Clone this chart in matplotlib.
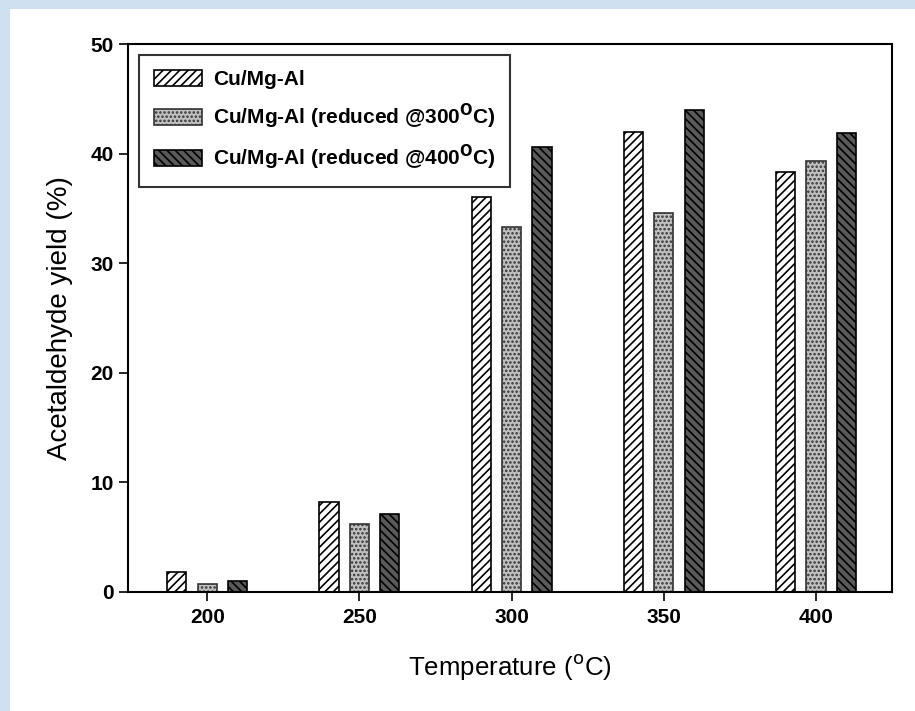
import matplotlib
matplotlib.use("Agg")
import matplotlib.pyplot as plt
from matplotlib.patches import Rectangle
import numpy as np

plt.rcParams['font.family'] = ['Liberation Sans', 'DejaVu Sans']
plt.rcParams['hatch.linewidth'] = 1.2

temps = [200, 250, 300, 350, 400]
labels = ['Cu/Mg-Al',
          r'Cu/Mg-Al (reduced @300$^{\mathbf{O}}$C)',
          r'Cu/Mg-Al (reduced @400$^{\mathbf{O}}$C)']
unreduced = [1.8, 8.2, 36.0, 42.0, 38.3]
red300 = [0.7, 6.2, 33.3, 34.6, 39.3]
red400 = [1.0, 7.1, 40.6, 44.0, 41.9]

fig = plt.figure(figsize=(9.15, 7.11), dpi=100)
fig.patch.set_facecolor('white')
fig.patches.append(Rectangle((0, 0), 0.0105, 1, transform=fig.transFigure,
                             facecolor='#cfe0f1', edgecolor='none', zorder=-10))
fig.patches.append(Rectangle((0, 1 - 0.0125), 1, 0.0125, transform=fig.transFigure,
                             facecolor='#cfe0f1', edgecolor='none', zorder=-10))

ax = fig.add_axes([0.140, 0.1674, 0.835, 0.7706])
x = np.array(temps, dtype=float)
w = 6.3
ax.bar(x - 10, unreduced, w, facecolor='white', edgecolor='black', hatch='////',
       linewidth=1.2, label=labels[0])
ax.bar(x, red300, w, facecolor='#c0c0c0', edgecolor='#333333', hatch='....',
       linewidth=1.2, label=labels[1])
ax.bar(x + 10, red400, w, facecolor='#5a5a5a', edgecolor='black', hatch='\\\\\\\\',
       linewidth=1.2, label=labels[2])

ax.set_xlim(174, 425)
ax.set_ylim(0, 50)
ax.set_xticks(temps)
ax.set_yticks([0, 10, 20, 30, 40, 50])
ax.tick_params(axis='both', direction='out', length=6.5, width=1.2, labelsize=15)
ax.tick_params(axis='x', pad=5)
ax.tick_params(axis='y', pad=4)
for lab in ax.get_xticklabels() + ax.get_yticklabels():
    lab.set_fontweight('bold')
for s in ax.spines.values():
    s.set_linewidth(1.5)

ax.set_xlabel(r'Temperature ($^{\mathrm{o}}$C)', fontsize=18.6, labelpad=18)
ax.set_ylabel('Acetaldehyde yield (%)', fontsize=20, labelpad=12)

leg = ax.legend(loc='upper left', bbox_to_anchor=(0.0144, 0.980), fontsize=15,
                frameon=True, fancybox=False, edgecolor='black',
                handlelength=2.3, handleheight=0.82, labelspacing=0.6,
                borderpad=0.7, handletextpad=0.53, borderaxespad=0)
leg.get_frame().set_linewidth(1.5)
for t in leg.get_texts():
    t.set_fontweight('bold')

fig.savefig('out.png', dpi=100, facecolor='white')
